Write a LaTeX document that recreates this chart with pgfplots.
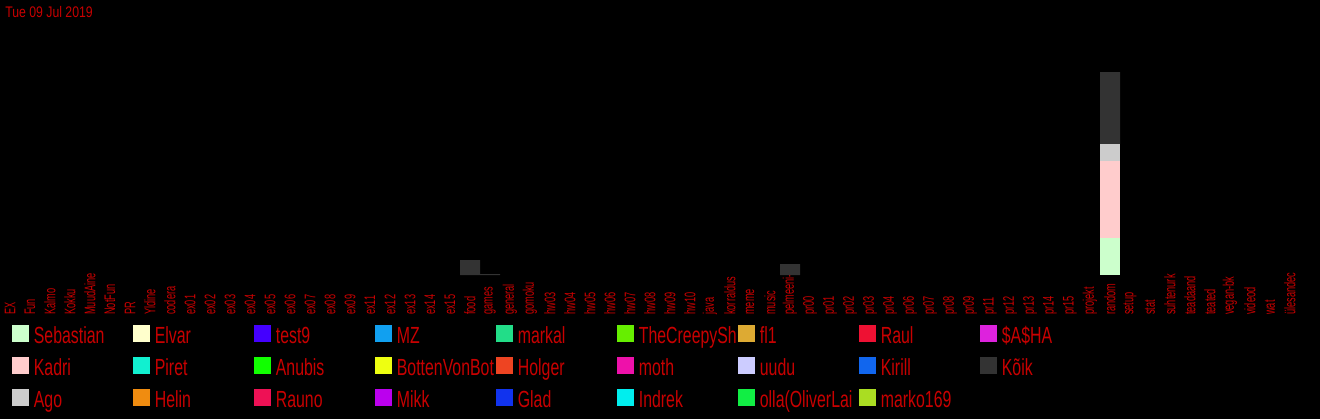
\documentclass[border=0pt]{standalone}
\usepackage{fontspec}
\setmainfont[FakeStretch=0.68]{Liberation Sans}
\newfontfamily\tickfont[FakeStretch=0.6]{Liberation Sans}
\newfontfamily\titlefont[FakeStretch=0.8]{Liberation Sans}
\usepackage{pgfplots}
\pgfplotsset{compat=1.18}
\definecolor{txt}{RGB}{200,0,0}
\definecolor{cSebastian}{HTML}{CCFFCC}
\definecolor{cKadri}{HTML}{FFCCCC}
\definecolor{cAgo}{HTML}{CCCCCC}
\definecolor{cElvar}{HTML}{FFFFCC}
\definecolor{cPiret}{HTML}{11F0D0}
\definecolor{cHelin}{HTML}{F08C10}
\definecolor{ctest}{HTML}{4400FF}
\definecolor{cAnubis}{HTML}{11FF00}
\definecolor{cRauno}{HTML}{EE1155}
\definecolor{cMZ}{HTML}{11A0F0}
\definecolor{cBotten}{HTML}{EEFF11}
\definecolor{cMikk}{HTML}{BB00EE}
\definecolor{cmarkal}{HTML}{22DD88}
\definecolor{cHolger}{HTML}{EE4422}
\definecolor{cGlad}{HTML}{1133EE}
\definecolor{cCreepy}{HTML}{66EE00}
\definecolor{cmoth}{HTML}{EE11AA}
\definecolor{cIndrek}{HTML}{00EEEE}
\definecolor{cfl}{HTML}{DDAA33}
\definecolor{cuudu}{HTML}{CCCCFF}
\definecolor{colla}{HTML}{11EE44}
\definecolor{cRaul}{HTML}{EE1133}
\definecolor{cKirill}{HTML}{1166EE}
\definecolor{cmarko}{HTML}{AADD22}
\definecolor{cSasha}{HTML}{DD22DD}
\definecolor{cKoik}{HTML}{333333}
\newcommand\lent[1]{\addlegendentry{\makebox[74.25pt][l]{#1}}}
\begin{document}
\begin{tikzpicture}[x=1pt,y=1pt]
\fill[black] (0,0) rectangle (990,314.25);
\useasboundingbox (0,0) rectangle (990,314.25);
\node[anchor=west, text=txt, font=\titlefont\fontsize{11.5}{12}\selectfont, inner sep=0pt] at (3.75,305.6) {Tue 09 Jul 2019};
\begin{axis}[
  at={(0,144)}, anchor=south west,
  scale only axis, width=990pt, height=191.25pt,
  xmin=-0.5, xmax=65.5, ymin=0, ymax=255,
  ybar stacked, bar width=15pt,
  axis line style={draw=none},
  xtick={0,...,64},
  xticklabels={EX,Fun,Kalmo,Kokku,MuudAine,NotFun,PR,Yldine,codera,ex01,ex02,ex03,ex04,ex05,ex06,ex07,ex08,ex09,ex11,ex12,ex13,ex14,ex15,food,games,general,gomoku,hw03,hw04,hw05,hw06,hw07,hw08,hw09,hw10,java,korraldus,meme,music,pelmeeni-,pr00,pr01,pr02,pr03,pr04,pr06,pr07,pr08,pr09,pr11,pr12,pr13,pr14,pr15,projekt,random,setup,stat,suhtenurk,teadaand,teated,vegan-bk,videod,wat,ülesandec},
  ytick=\empty, major tick length=0pt,
  xticklabel style={rotate=90, anchor=west, inner sep=0pt, text=txt, font=\tickfont\fontsize{11.5}{11.5}\selectfont},
  xticklabel shift=30pt,
  transpose legend, legend columns=3, legend cell align=left,
  legend style={at={(0.009,-0.196)}, anchor=north west, draw=none, fill=none,
    text=txt, font=\fontsize{17.5}{18}\selectfont, inner sep=0pt, outer sep=0pt,
    column sep=0pt, row sep=6.25pt,
    nodes={inner sep=0pt, text height=13pt, text depth=4pt}},
  every axis plot post/.append style={draw=none,
    legend image code/.code={\fill[##1] (0pt,-3.5pt) rectangle (12.75pt,9.25pt); \path (16.5pt,0pt);}},
]
\addplot[fill=cSebastian] coordinates {(23,0) (24,0) (39,0) (55,37)}; \lent{Sebastian}
\addplot[fill=cKadri] coordinates {(23,0) (24,0) (39,0) (55,77)}; \lent{Kadri}
\addplot[fill=cAgo] coordinates {(23,0) (24,0) (39,0) (55,17)}; \lent{Ago}
\addplot[fill=cElvar] coordinates {(23,0) (24,0) (39,0) (55,0)}; \lent{Elvar}
\addplot[fill=cPiret] coordinates {(23,0) (24,0) (39,0) (55,0)}; \lent{Piret}
\addplot[fill=cHelin] coordinates {(23,0) (24,0) (39,0) (55,0)}; \lent{Helin}
\addplot[fill=ctest] coordinates {(23,0) (24,0) (39,0) (55,0)}; \lent{test9}
\addplot[fill=cAnubis] coordinates {(23,0) (24,0) (39,0) (55,0)}; \lent{Anubis}
\addplot[fill=cRauno] coordinates {(23,0) (24,0) (39,0) (55,0)}; \lent{Rauno}
\addplot[fill=cMZ] coordinates {(23,0) (24,0) (39,0) (55,0)}; \lent{MZ}
\addplot[fill=cBotten] coordinates {(23,0) (24,0) (39,0) (55,0)}; \lent{BottenVonBot}
\addplot[fill=cMikk] coordinates {(23,0) (24,0) (39,0) (55,0)}; \lent{Mikk}
\addplot[fill=cmarkal] coordinates {(23,0) (24,0) (39,0) (55,0)}; \lent{markal}
\addplot[fill=cHolger] coordinates {(23,0) (24,0) (39,0) (55,0)}; \lent{Holger}
\addplot[fill=cGlad] coordinates {(23,0) (24,0) (39,0) (55,0)}; \lent{Glad}
\addplot[fill=cCreepy] coordinates {(23,0) (24,0) (39,0) (55,0)}; \lent{TheCreepySh}
\addplot[fill=cmoth] coordinates {(23,0) (24,0) (39,0) (55,0)}; \lent{moth}
\addplot[fill=cIndrek] coordinates {(23,0) (24,0) (39,0) (55,0)}; \lent{Indrek}
\addplot[fill=cfl] coordinates {(23,0) (24,0) (39,0) (55,0)}; \lent{fl1}
\addplot[fill=cuudu] coordinates {(23,0) (24,0) (39,0) (55,0)}; \lent{uudu}
\addplot[fill=colla] coordinates {(23,0) (24,0) (39,0) (55,0)}; \lent{olla(OliverLai}
\addplot[fill=cRaul] coordinates {(23,0) (24,0) (39,0) (55,0)}; \lent{Raul}
\addplot[fill=cKirill] coordinates {(23,0) (24,0) (39,0) (55,0)}; \lent{Kirill}
\addplot[fill=cmarko] coordinates {(23,0) (24,0) (39,0) (55,0)}; \lent{marko169}
\addplot[fill=cSasha] coordinates {(23,0) (24,0) (39,0) (55,0)}; \lent{\$A\$HA}
\addplot[fill=cKoik] coordinates {(23,15) (24,1) (39,11) (55,72)}; \lent{Kõik}
\end{axis}
\end{tikzpicture}
\end{document}
